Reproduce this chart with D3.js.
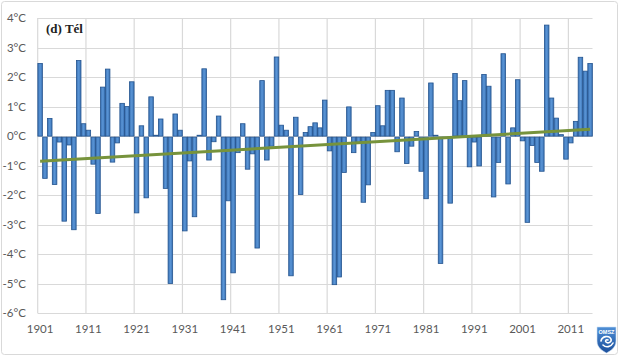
<!DOCTYPE html>
<html>
<head>
<meta charset="utf-8">
<script src="https://cdn.jsdelivr.net/npm/d3@7"></script>
<style>
  html, body { margin: 0; padding: 0; background: #fff; }
  svg { display: block; }
</style>
</head>
<body>
<svg id="chart" width="620" height="357"></svg>
<script>
// ---- data ----
const startYear = 1901;
const years = d3.range(1901, 2016);
const anomalies = [
  2.46, -1.43, 0.60, -1.64, -0.20, -2.88, -0.30, -3.17, 2.56, 0.42,   // 1901-1910
  0.20, -0.95, -2.62, 1.66, 2.27, -0.88, -0.23, 1.11, 1.00, 1.84,     // 1911-1920
  -2.60, 0.35, -2.09, 1.33, 0.03, 0.58, -1.77, -4.99, 0.75, 0.20,     // 1921-1930
  -3.21, -0.84, -2.73, 0.03, 2.28, -0.81, -0.19, 0.68, -5.54, -2.19,  // 1931-1940
  -4.63, -0.56, 0.42, -1.12, -0.60, -3.79, 1.88, -0.81, -0.34, 2.68,  // 1941-1950
  0.37, 0.20, -4.73, 0.64, -1.98, 0.12, 0.32, 0.45, 0.28, 1.22,       // 1951-1960
  -0.50, -5.03, -4.77, -1.23, 0.99, -0.56, -0.25, -2.24, -1.65, 0.12, // 1961-1970
  1.03, 0.35, 1.55, 1.55, -0.53, 1.29, -0.93, -0.34, 0.16, -1.19,     // 1971-1980
  -2.12, 1.80, 0.03, -4.31, -0.03, -2.27, 2.12, 1.20, 1.88, -1.04,    // 1981-1990
  -0.20, -1.01, 2.09, 1.69, -2.06, -0.89, 2.79, -1.62, 0.28, 1.91,    // 1991-2000
  -0.16, -2.92, -0.32, -0.89, -1.19, 3.76, 1.29, 0.61, 0.05, -0.78,   // 2001-2010
  -0.23, 0.50, 2.67, 2.20, 2.46                                       // 2011-2015
];
const trendYears = [1901, 2015];
const trendValues = [-0.85, 0.23];
const yTicks = [4, 3, 2, 1, 0, -1, -2, -3, -4, -5, -6];
const xTickYears = [1901, 1911, 1921, 1931, 1941, 1951, 1961, 1971, 1981, 1991, 2001, 2011];
const titleText = "(d) Tél";

// ---- layout ----
const svg = d3.select("#chart");
const plot = { left: 37.7, right: 592.5, top: 18, bottom: 313.3 };

const x = d3.scaleBand().domain(years).range([plot.left, plot.right]).paddingInner(0.06).paddingOuter(0.03);
const xEdge = d3.scaleBand().domain(years).range([plot.left, plot.right]).padding(0);
const y = d3.scaleLinear().domain([-6, 4]).range([plot.bottom, plot.top]);

// outer frame
svg.append("rect")
  .attr("x", 1.5).attr("y", 1.5).attr("width", 616).attr("height", 353)
  .attr("rx", 3).attr("fill", "#fff").attr("stroke", "#d9d9d9").attr("stroke-width", 1);

// gradient for bars
const defs = svg.append("defs");
const grad = defs.append("linearGradient").attr("id", "barGrad")
  .attr("x1", "0%").attr("x2", "100%").attr("y1", "0%").attr("y2", "0%");
grad.append("stop").attr("offset", "0%").attr("stop-color", "#3b73b5");
grad.append("stop").attr("offset", "50%").attr("stop-color", "#5a95d6");
grad.append("stop").attr("offset", "100%").attr("stop-color", "#3b73b5");

const shieldGrad = defs.append("linearGradient").attr("id", "shieldGrad")
  .attr("x1", "0%").attr("x2", "0%").attr("y1", "0%").attr("y2", "100%");
shieldGrad.append("stop").attr("offset", "0%").attr("stop-color", "#4f8fd6");
shieldGrad.append("stop").attr("offset", "100%").attr("stop-color", "#1b4f9c");

// horizontal gridlines
svg.append("g").selectAll("line").data(yTicks).join("line")
  .attr("x1", plot.left).attr("x2", plot.right)
  .attr("y1", d => Math.round(y(d)) + 0.5).attr("y2", d => Math.round(y(d)) + 0.5)
  .attr("stroke", "#d9d9d9").attr("stroke-width", 1.2);

// vertical gridlines
svg.append("g").selectAll("line").data(xTickYears).join("line")
  .attr("x1", d => xEdge(d)).attr("x2", d => xEdge(d))
  .attr("y1", plot.top).attr("y2", plot.bottom)
  .attr("stroke", "#d9d9d9").attr("stroke-width", 1.2);

// y labels
svg.append("g").selectAll("text").data(yTicks).join("text")
  .attr("x", 26).attr("y", d => y(d)).attr("dy", "0.35em")
  .attr("text-anchor", "end")
  .attr("font-family", "Lato, 'Open Sans', sans-serif").attr("font-size", 11.5)
  .attr("fill", "#595959")
  .text(d => d + "°C");

// x labels
svg.append("g").selectAll("text").data(xTickYears).join("text")
  .attr("x", d => xEdge(d) + xEdge.bandwidth() / 2).attr("y", 333)
  .attr("text-anchor", "middle")
  .attr("font-family", "Lato, 'Open Sans', sans-serif").attr("font-size", 11.5)
  .attr("fill", "#595959")
  .text(d => d);

// bars
svg.append("g").selectAll("rect").data(years.map((yr, i) => ({ yr, v: anomalies[i] }))).join("rect")
  .attr("x", d => x(d.yr))
  .attr("width", x.bandwidth())
  .attr("y", d => d.v >= 0 ? y(d.v) : y(0) + 1)
  .attr("height", d => Math.max(0.6, Math.abs(y(d.v) - y(0)) - (d.v >= 0 ? 0 : 1)))
  .attr("fill", "url(#barGrad)")
  .attr("stroke", "#24548f").attr("stroke-width", 0.8);

// trend line
const line = d3.line().x(d => xEdge(d[0]) + xEdge.bandwidth() / 2).y(d => y(d[1]));
svg.append("path")
  .datum(trendYears.map((yr, i) => [yr, trendValues[i]]))
  .attr("d", line)
  .attr("fill", "none").attr("stroke", "#77933c").attr("stroke-width", 3);

// title
svg.append("text")
  .attr("x", 46).attr("y", 33)
  .attr("font-family", "'Liberation Serif', 'Times New Roman', serif")
  .attr("font-size", 13).attr("font-weight", "bold").attr("fill", "#222")
  .text(titleText);

// OMSZ logo
const logo = svg.append("g").attr("transform", "translate(597,327)");
logo.append("path")
  .attr("d", "M0,0 H19 V14 C19,21 13,24 9.5,26 C6,24 0,21 0,14 Z")
  .attr("fill", "url(#shieldGrad)").attr("stroke", "#cfe0f5").attr("stroke-width", 0.6);
logo.append("text").attr("x", 9.5).attr("y", 6.5).attr("text-anchor", "middle")
  .attr("font-family", "'Liberation Sans', sans-serif").attr("font-size", 5.5).attr("font-weight", "bold")
  .attr("fill", "#fff").text("OMSZ");
logo.append("path")
  .attr("d", "M4,14 C5,9 12,8 14,12 C15,15 11,17 9,15 C8,14 9,12 11,13 M6,18 C9,21 14,20 16,16")
  .attr("fill", "none").attr("stroke", "#fff").attr("stroke-width", 1.6).attr("stroke-linecap", "round");
</script>
</body>
</html>
